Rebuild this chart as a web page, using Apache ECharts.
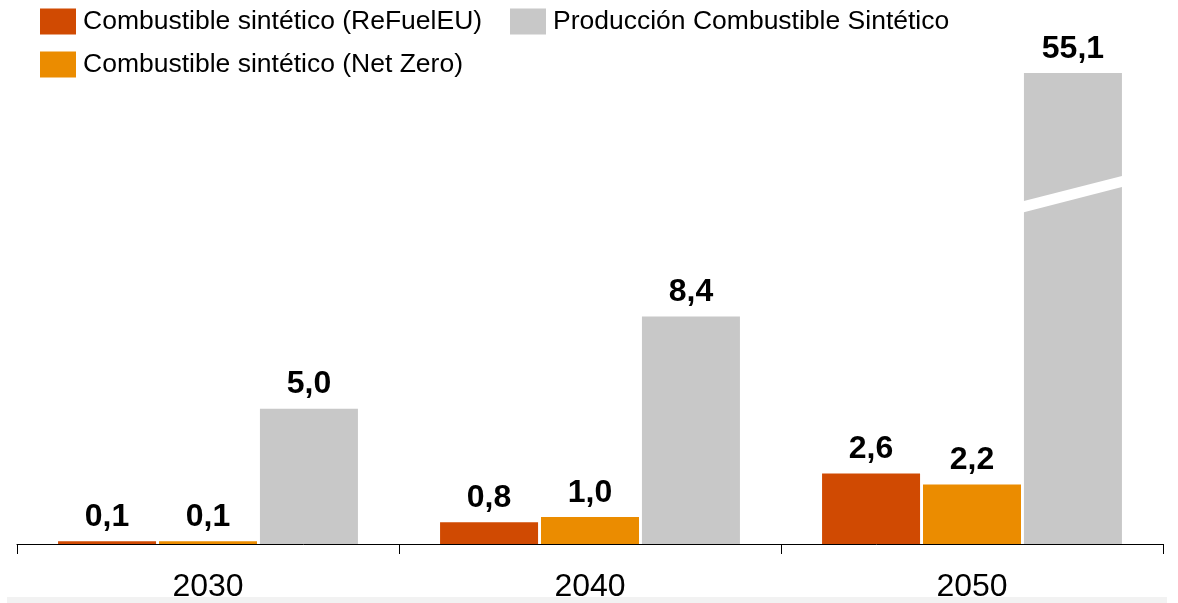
<!DOCTYPE html>
<html>
<head>
<meta charset="utf-8">
<script src="https://cdn.jsdelivr.net/npm/echarts@6/dist/echarts.min.js"></script>
<style>
  html, body { margin: 0; padding: 0; background: #fff; }
  #chart { width: 1178px; height: 603px; }
</style>
</head>
<body>
<div id="chart"></div>
<script>
// ---- data ----
const years = ['2030', '2040', '2050'];
const seriesNames = [
  'Combustible sintético (ReFuelEU)',
  'Combustible sintético (Net Zero)',
  'Producción Combustible Sintético'
];
const refuelEU   = [0.1, 0.8, 2.6];
const netZero    = [0.1, 1.0, 2.2];
const produccion = [5.0, 8.4, 55.1];

// ---- styling ----
const COLORS = ['#D04A02', '#EB8C00', '#C8C8C8'];
const FONT = "'Liberation Sans', Arial, Helvetica, sans-serif";
const BAR_W = 98;
const BAR_GAP_RATIO = 0.03;

// value axis is compressed between these two values so the tall bar fits
const AXIS_BREAK = { start: 13.6, end: 51.3 };
// slanted white cut marking the compressed part of the 2050 production bar
const CUT = { category: 2, leftValue: 12.25, rightValue: 13.2, thickness: 0.41 };

const fmt = v => v.toFixed(1).replace('.', ',');

const labelStyle = {
  show: true,
  position: 'top',
  distance: 8,
  color: '#000',
  fontFamily: FONT,
  fontWeight: 'bold',
  fontSize: 32,
  formatter: p => fmt(p.value)
};

function barSeries(name, data, color) {
  return {
    name: name,
    type: 'bar',
    data: data,
    barWidth: BAR_W,
    barGap: (BAR_GAP_RATIO * 100) + '%',
    itemStyle: { color: color },
    label: labelStyle,
    emphasis: { disabled: true }
  };
}

const chart = echarts.init(document.getElementById('chart'), null, { renderer: 'canvas' });

const legendText = {
  color: '#000',
  fontFamily: FONT,
  fontSize: 26.5,
  lineHeight: 26,
  padding: [0, 0, 0, 2]
};

chart.setOption({
  animation: false,
  backgroundColor: '#fff',
  color: COLORS,
  legend: [
    {
      left: 35, top: 3,
      orient: 'vertical',
      itemWidth: 36, itemHeight: 26, itemGap: 16,
      icon: 'rect',
      selectedMode: false,
      data: [seriesNames[0], seriesNames[1]],
      textStyle: legendText
    },
    {
      left: 505, top: 3,
      orient: 'vertical',
      itemWidth: 36, itemHeight: 26,
      icon: 'rect',
      selectedMode: false,
      data: [seriesNames[2]],
      textStyle: legendText
    }
  ],
  grid: { left: 17, right: 15, top: 73, bottom: 58, containLabel: false },
  xAxis: {
    type: 'category',
    data: years,
    axisLine: { lineStyle: { color: '#000', width: 1 } },
    axisTick: { show: true, length: 10, lineStyle: { color: '#000', width: 1 } },
    axisLabel: { color: '#000', fontFamily: FONT, fontSize: 32, margin: 27 },
    splitLine: { show: false }
  },
  yAxis: {
    type: 'value',
    min: 0,
    max: 55.1,
    show: false,
    splitLine: { show: false },
    breaks: [{ start: AXIS_BREAK.start, end: AXIS_BREAK.end, gap: 0 }],
    breakArea: { show: false }
  },
  series: [
    barSeries(seriesNames[0], refuelEU, COLORS[0]),
    barSeries(seriesNames[1], netZero, COLORS[1]),
    barSeries(seriesNames[2], produccion, COLORS[2]),
    {
      type: 'custom',
      name: 'cut',
      silent: true,
      z: 5,
      clip: false,
      data: [[CUT.category, 0]],
      encode: { x: 0, y: 1 },
      renderItem: function (params, api) {
        const cx = api.coord([CUT.category, 0])[0];
        const off = BAR_W * (1 + BAR_GAP_RATIO);
        const x0 = cx + off - BAR_W / 2 - 1;
        const x1 = cx + off + BAR_W / 2 + 1;
        const yL0 = api.coord([CUT.category, CUT.leftValue])[1];
        const yL1 = api.coord([CUT.category, CUT.leftValue + CUT.thickness])[1];
        const yR0 = api.coord([CUT.category, CUT.rightValue])[1];
        const yR1 = api.coord([CUT.category, CUT.rightValue + CUT.thickness])[1];
        return {
          type: 'polygon',
          shape: { points: [[x0, yL0], [x1, yR0], [x1, yR1], [x0, yL1]] },
          style: { fill: '#fff' }
        };
      }
    }
  ],
  graphic: [
    {
      type: 'rect',
      z: 100,
      silent: true,
      shape: { x: 7, y: 597, width: 1160, height: 6 },
      style: { fill: '#f2f2f2' }
    }
  ]
});
</script>
</body>
</html>
